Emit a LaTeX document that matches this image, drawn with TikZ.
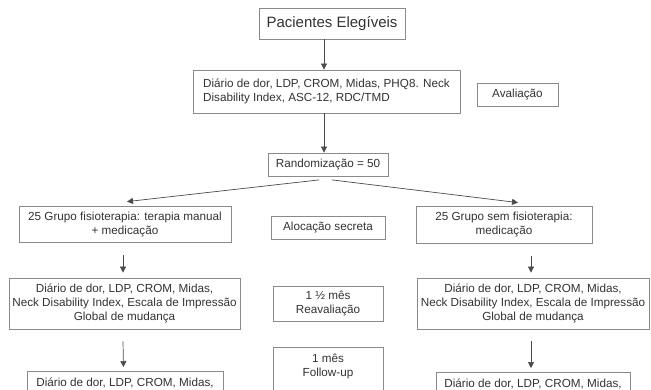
\documentclass[tikz,border=0pt]{standalone}
\usepackage{fontspec}
\setmainfont{Liberation Sans}
\usetikzlibrary{arrows.meta,calc}
\definecolor{linegray}{HTML}{8A8A8A}
\definecolor{arrowgray}{HTML}{4A4A4A}
\definecolor{textgray}{HTML}{333333}
\begin{document}
\begin{tikzpicture}[x=1pt,y=-1pt,
  box/.style={draw=linegray, line width=0.8pt, text=textgray, inner sep=0pt, align=center,
    font=\fontsize{11.7}{14}\selectfont},
  cutbox/.style={box, anchor=north, inner ysep=6.5pt, text height=9pt, text depth=40pt},
  arr/.style={draw=arrowgray, line width=0.7pt, -{Triangle[length=6pt,width=6pt]}}]
\useasboundingbox (0,0) rectangle (651,389);
\fill[white] (0,0) rectangle (651,389);
\coordinate (ax) at (324,0);

\node[box, minimum width=146pt, minimum height=31pt, font=\fontsize{15}{18}\selectfont] (P) at (332,23.5) {Pacientes Elegíveis};
\node[box, minimum width=267pt, minimum height=43pt, align=left] (B) at (326.5,91.5)
  {Diário de dor, LDP, CROM, Midas, PHQ8. Neck\\Disability Index, ASC-12, RDC/TMD};
\node[box, minimum width=81pt, minimum height=23pt] (Av) at (517.5,94.5) {Avaliação};
\node[box, minimum width=120pt, minimum height=23pt] (R) at (328,164.5) {Randomização = 50};

\node[box, minimum width=212pt, minimum height=36pt] (G1) at (125,224) {25 Grupo fisioterapia: terapia manual\\+ medicação};
\node[box, minimum width=114pt, minimum height=23.5pt] (Al) at (328,227.7) {Alocação secreta};
\node[box, minimum width=176pt, minimum height=37pt] (G2) at (504,224.5) {25 Grupo sem fisioterapia:\\medicação};

\node[box, minimum width=231pt, minimum height=51pt] (L3) at (124.5,303.5) {Diário de dor, LDP, CROM, Midas,\\Neck Disability Index, Escala de Impressão\\Global de mudança};
\node[box, minimum width=110pt, minimum height=35pt] (M3) at (328,303.5) {1 ½ mês\\Reavaliação};
\node[box, minimum width=232pt, minimum height=51pt] (R3) at (533,303.5) {Diário de dor, LDP, CROM, Midas,\\Neck Disability Index, Escala de Impressão\\Global de mudança};

\node[cutbox, minimum width=196pt] (L4) at (125,371) {Diário de dor, LDP, CROM, Midas,};
\node[cutbox, minimum width=110pt, text height=23pt] (M4) at (328,347) {1 mês\\Follow-up};
\node[cutbox, minimum width=194pt] (R4) at (533,372) {Diário de dor, LDP, CROM, Midas,};

\draw[arr] (P.south -| ax) -- (B.north -| ax);
\draw[arr] (B.south -| ax) -- (R.north -| ax);
\draw[arr] ($(R.south)+(-9,3.5)$) -- ($(G1.north)+(2,-4)$);
\draw[arr] ($(R.south)+(4,3.5)$) -- ($(G2.north)+(14,-3)$);
\draw[arr] ($(G1.south -| L3.north)+(-1.5,13)$) -- ($(L3.north)+(-1.5,-5)$);
\draw[arr] ($(G2.south -| R3.north)+(-2,13)$) -- ($(R3.north)+(-2,-5)$);
\draw[arr] ($(L3.south)+(-1.5,12)$) -- ($(L4.north)+(-1.5,-4)$);
\draw[arr] ($(R3.south)+(-2,12)$) -- ($(R4.north)+(-2,-4)$);
\end{tikzpicture}
\end{document}
